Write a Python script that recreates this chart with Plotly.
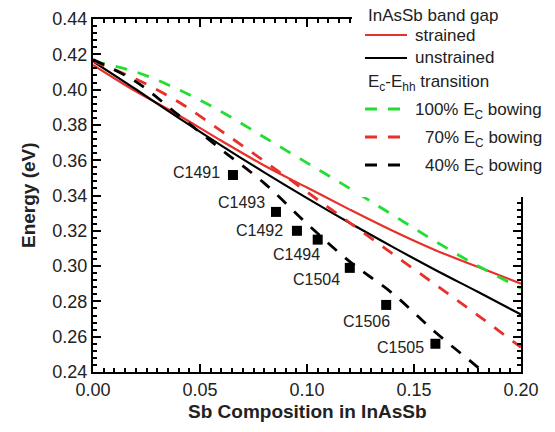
import plotly.graph_objects as go

# ---------------- data ----------------
sb = [0.00, 0.02, 0.04, 0.06, 0.08, 0.10, 0.12, 0.14, 0.16, 0.18, 0.20]
strained = [0.414, 0.399, 0.3855, 0.371, 0.357, 0.3445, 0.332, 0.320, 0.309, 0.2995, 0.290]
unstrained = [0.416, 0.4002, 0.3840, 0.3683, 0.3531, 0.3385, 0.3244, 0.3109, 0.2978, 0.2853, 0.2726]
bow100 = [0.416, 0.410, 0.400, 0.3875, 0.373, 0.3585, 0.344, 0.329, 0.314, 0.300, 0.2875]
bow70 = [0.416, 0.406, 0.393, 0.3765, 0.3595, 0.342, 0.3245, 0.307, 0.2895, 0.272, 0.254]
bow40 = [0.417, 0.4045, 0.3855, 0.366, 0.347, 0.324, 0.3025, 0.2845, 0.2625, 0.2425, 0.222]

samples = ["C1491", "C1493", "C1492", "C1494", "C1504", "C1506", "C1505"]
sample_sb = [0.0654, 0.0855, 0.0953, 0.105, 0.120, 0.137, 0.160]
sample_e = [0.3516, 0.3307, 0.3200, 0.3150, 0.2990, 0.2780, 0.2560]
# label offsets (px) of label's right edge / vertical centre relative to the marker
label_dx = [-11, -9, -12, 4, -8, 6, -9]
label_dy = [3, 9, 0, -15, -12, -17, -4]

xticks = [0.00, 0.05, 0.10, 0.15, 0.20]
yticks = [0.24, 0.26, 0.28, 0.30, 0.32, 0.34, 0.36, 0.38, 0.40, 0.42, 0.44]

FONT = "Liberation Sans, Arial, sans-serif"
RED = "#e8302a"
GREEN = "#22dd33"
BLACK = "#000000"
DASH = "12px,11px"

fig = go.Figure()
fig.add_trace(go.Scatter(x=sb, y=strained, mode="lines", line=dict(color=RED, width=2.2, shape="spline")))
fig.add_trace(go.Scatter(x=sb, y=unstrained, mode="lines", line=dict(color=BLACK, width=2.2, shape="spline")))
fig.add_trace(go.Scatter(x=sb, y=bow100, mode="lines", line=dict(color=GREEN, width=2.8, dash=DASH, shape="spline")))
fig.add_trace(go.Scatter(x=sb, y=bow70, mode="lines", line=dict(color=RED, width=2.8, dash=DASH, shape="spline")))
fig.add_trace(go.Scatter(x=sb, y=bow40, mode="lines", line=dict(color=BLACK, width=2.8, dash=DASH, shape="spline")))
fig.add_trace(go.Scatter(x=sample_sb, y=sample_e, mode="markers",
                         marker=dict(symbol="square", size=10, color=BLACK)))

for name, xv, yv, dx, dy in zip(samples, sample_sb, sample_e, label_dx, label_dy):
    fig.add_annotation(x=xv, y=yv, text=name, showarrow=False, xanchor="right", yanchor="middle",
                       xshift=dx, yshift=dy, font=dict(family=FONT, size=16, color="#222"))

# ---- geometry helpers (pixel -> paper) ----
L, R, T, B = 93, 521, 19, 372
def px(xp):
    return (xp - L) / (R - L)
def py(yp):
    return (B - yp) / (B - T)

# ---- legend box (white, covers frame) ----
fig.add_shape(type="rect", xref="paper", yref="paper", x0=px(352), x1=px(560), y0=py(197), y1=py(-5),
              fillcolor="white", line=dict(width=0), layer="above")

legend_lines = [
    (35, RED, None, 2.2),
    (58, BLACK, None, 2.2),
    (109, GREEN, DASH, 2.8),
    (137, RED, DASH, 2.8),
    (165, BLACK, DASH, 2.8),
]
for yp, col, dash, w in legend_lines:
    x1 = 407 if dash is None else 400
    fig.add_shape(type="line", xref="paper", yref="paper", x0=px(365), x1=px(x1), y0=py(yp), y1=py(yp),
                  line=dict(color=col, width=w, dash=dash if dash else "solid"), layer="above")

legend_texts = [
    ("InAsSb band gap", 366, 15),
    ("strained", 413, 35),
    ("unstrained", 413, 58),
    ("E<sub>c</sub>-E<sub>hh</sub> transition", 366, 83),
    ("100% E<sub>C</sub> bowing", 413, 111),
    ("70% E<sub>C</sub> bowing", 423, 139),
    ("40% E<sub>C</sub> bowing", 423, 167),
]
for txt, xp, yp in legend_texts:
    fig.add_annotation(xref="paper", yref="paper", x=px(xp), y=py(yp), text=txt, showarrow=False,
                       xanchor="left", yanchor="middle", font=dict(family=FONT, size=17, color="#222"))

# ---- axis titles ----
fig.add_annotation(xref="paper", yref="paper", x=px(307), y=py(411), text="<b>Sb Composition in InAsSb</b>",
                   showarrow=False, xanchor="center", yanchor="middle",
                   font=dict(family=FONT, size=19, color="#222"))
fig.add_annotation(xref="paper", yref="paper", x=px(28), y=py(195), text="<b>Energy (eV)</b>",
                   showarrow=False, xanchor="center", yanchor="middle", textangle=-90,
                   font=dict(family=FONT, size=19, color="#222"))

axis_common = dict(
    showline=True, linecolor="black", linewidth=2, mirror="allticks",
    ticks="inside", ticklen=8, tickwidth=1.5, tickcolor="black",
    showgrid=False, zeroline=False, automargin=False,
    tickfont=dict(family=FONT, size=18, color="#222"),
)
fig.update_xaxes(range=[0, 0.2], tickvals=xticks, tickformat=".2f",
                 minor=dict(dtick=0.005, ticklen=4, tickwidth=1.5, tickcolor="black", ticks="inside"),
                 **axis_common)
fig.update_yaxes(range=[0.24, 0.44], tickvals=yticks, tickformat=".2f",
                 minor=dict(dtick=0.004, ticklen=4, tickwidth=1.5, tickcolor="black", ticks="inside"),
                 **axis_common)

fig.update_layout(width=555, height=432, autosize=False, showlegend=False,
                  margin=dict(l=L, r=555 - R, t=T, b=432 - B),
                  plot_bgcolor="white", paper_bgcolor="white")

fig.write_html("out.html", config={"displayModeBar": False},
               post_script="document.body.style.margin='0px';document.body.style.overflow='hidden';")
